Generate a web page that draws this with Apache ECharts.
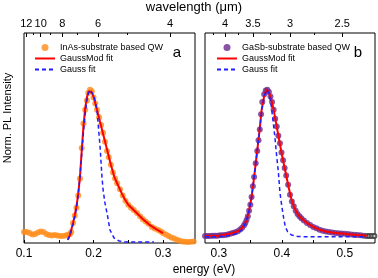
<!DOCTYPE html>
<html>
<head>
<meta charset="utf-8">
<script src="https://cdn.jsdelivr.net/npm/echarts@6/dist/echarts.min.js"></script>
<style>
  html, body { margin: 0; padding: 0; background: #fff; }
  #chart { width: 378px; height: 278px; }
</style>
</head>
<body>
<div id="chart"></div>
<script>
// panel a: InAs-substrate QW
const inasE = [0.100, 0.104, 0.108, 0.112, 0.116, 0.120, 0.124, 0.128, 0.132, 0.136, 0.140, 0.144, 0.148, 0.152, 0.156, 0.160,
  0.163, 0.166, 0.168, 0.1705, 0.173, 0.1755, 0.178, 0.1805, 0.183, 0.1855, 0.188, 0.1905, 0.1925, 0.195, 0.1975,
  0.200, 0.2025, 0.205, 0.208, 0.211, 0.2137, 0.2165, 0.2194, 0.222, 0.225, 0.228, 0.231, 0.234, 0.238, 0.242, 0.246,
  0.250, 0.254, 0.258, 0.2626, 0.267, 0.271, 0.275, 0.279, 0.284, 0.288, 0.293, 0.297, 0.300, 0.304, 0.308, 0.312,
  0.316, 0.320, 0.324, 0.328, 0.332, 0.336, 0.340, 0.344];
const inasI = [0.072, 0.072, 0.065, 0.056, 0.059, 0.069, 0.075, 0.072, 0.059, 0.052, 0.049, 0.052, 0.049, 0.046, 0.046, 0.049,
  0.052, 0.059, 0.072, 0.13, 0.18, 0.23, 0.31, 0.42, 0.62, 0.78, 0.87, 0.93, 0.98, 1.0, 0.99,
  0.95, 0.91, 0.87, 0.82, 0.77, 0.72, 0.66, 0.60, 0.56, 0.51, 0.46, 0.42, 0.39, 0.35, 0.31, 0.275,
  0.25, 0.23, 0.215, 0.196, 0.175, 0.155, 0.14, 0.125, 0.105, 0.095, 0.085, 0.075, 0.066, 0.055, 0.045, 0.036,
  0.03, 0.022, 0.015, 0.01, 0.008, 0.007, 0.008, 0.01];
const modAE = [0.163, 0.166, 0.1705, 0.173, 0.1755, 0.178, 0.1805, 0.183, 0.1855, 0.188, 0.1905, 0.193, 0.1955, 0.198,
  0.201, 0.205, 0.21, 0.215, 0.22, 0.225, 0.23, 0.235, 0.24, 0.245, 0.25, 0.26, 0.27, 0.28, 0.29, 0.30];
const modAI = [0.02, 0.05, 0.13, 0.18, 0.24, 0.32, 0.43, 0.60, 0.76, 0.88, 0.95, 0.99, 1.0, 0.98,
  0.94, 0.87, 0.78, 0.69, 0.60, 0.51, 0.43, 0.38, 0.33, 0.285, 0.25, 0.205, 0.16, 0.12, 0.09, 0.065];
const gaussAE = [0.163, 0.166, 0.1705, 0.173, 0.1755, 0.178, 0.1805, 0.183, 0.1855, 0.188, 0.1905, 0.193, 0.1955, 0.198,
  0.201, 0.205, 0.2075, 0.2094, 0.2122, 0.2137, 0.2165, 0.2194, 0.2237, 0.2295, 0.237, 0.245, 0.26, 0.275, 0.287];
const gaussAI = [0.02, 0.05, 0.12, 0.17, 0.23, 0.32, 0.43, 0.58, 0.72, 0.84, 0.93, 0.98, 1.0, 0.99,
  0.95, 0.87, 0.73, 0.63, 0.43, 0.35, 0.26, 0.196, 0.085, 0.033, 0.013, 0.007, 0.006, 0.006, 0.006];

// panel b: GaSb-substrate QW
const gasbE = [0.278, 0.282, 0.286, 0.290, 0.294, 0.298, 0.302, 0.306, 0.310, 0.314, 0.318, 0.322, 0.326, 0.330, 0.334,
  0.337, 0.340, 0.342, 0.344, 0.346, 0.348, 0.350, 0.352, 0.354, 0.356, 0.3585, 0.361, 0.363, 0.365, 0.367, 0.369,
  0.372, 0.3745, 0.377, 0.3795, 0.382, 0.3845, 0.387, 0.3895, 0.392, 0.3945, 0.397, 0.3995, 0.402, 0.4045, 0.407,
  0.410, 0.413, 0.416, 0.419, 0.422, 0.425, 0.428, 0.431, 0.435, 0.440, 0.445, 0.450, 0.455, 0.460, 0.465, 0.470,
  0.475, 0.480, 0.485, 0.490, 0.495, 0.500, 0.505, 0.510, 0.515, 0.520, 0.525, 0.530];
const gasbI = [0.046, 0.046, 0.046, 0.047, 0.047, 0.048, 0.05, 0.051, 0.053, 0.056, 0.06, 0.065, 0.07, 0.077, 0.088,
  0.1, 0.115, 0.13, 0.15, 0.175, 0.21, 0.25, 0.30, 0.37, 0.43, 0.52, 0.60, 0.67, 0.74, 0.84, 0.92,
  0.97, 0.995, 1.0, 0.985, 0.955, 0.92, 0.87, 0.81, 0.76, 0.70, 0.65, 0.59, 0.54, 0.49, 0.44,
  0.38, 0.315, 0.27, 0.24, 0.21, 0.19, 0.175, 0.162, 0.146, 0.13, 0.117, 0.105, 0.096, 0.087, 0.08, 0.075,
  0.071, 0.068, 0.066, 0.064, 0.062, 0.06, 0.058, 0.056, 0.054, 0.052, 0.05, 0.048];
const openBE = [0.535, 0.539, 0.543, 0.547];
const openBI = [0.046, 0.046, 0.046, 0.046];
const modBE = [0.278, 0.30, 0.32, 0.33, 0.335, 0.34, 0.344, 0.348, 0.352, 0.356, 0.36, 0.364, 0.368, 0.372, 0.3755,
  0.379, 0.383, 0.387, 0.391, 0.395, 0.399, 0.403, 0.407, 0.411, 0.415, 0.42, 0.425, 0.43, 0.44, 0.45, 0.46, 0.47,
  0.48, 0.49, 0.50, 0.51, 0.52, 0.535];
const modBI = [0.045, 0.048, 0.062, 0.076, 0.09, 0.115, 0.15, 0.21, 0.30, 0.43, 0.57, 0.71, 0.87, 0.96, 1.0,
  0.99, 0.94, 0.87, 0.78, 0.69, 0.60, 0.52, 0.44, 0.36, 0.29, 0.23, 0.19, 0.165, 0.13, 0.105, 0.087, 0.075,
  0.068, 0.064, 0.06, 0.056, 0.052, 0.047];
const gaussBE = [0.278, 0.30, 0.32, 0.33, 0.336, 0.34, 0.344, 0.348, 0.352, 0.356, 0.36, 0.364, 0.368, 0.372, 0.3765,
  0.380, 0.383, 0.386, 0.3895, 0.392, 0.3946, 0.397, 0.400, 0.403, 0.4056, 0.409, 0.4153, 0.425, 0.44, 0.50, 0.535];
const gaussBI = [0.04, 0.042, 0.05, 0.065, 0.085, 0.11, 0.15, 0.21, 0.30, 0.43, 0.57, 0.71, 0.86, 0.96, 1.0,
  0.97, 0.90, 0.80, 0.67, 0.56, 0.46, 0.33, 0.24, 0.16, 0.105, 0.075, 0.052, 0.043, 0.04, 0.04, 0.04];

// ticks
const energyTicksA = [0.1, 0.15, 0.2, 0.25, 0.3];
const energyLabelsA = [0.1, 0.2, 0.3];
const energyTicksB = [0.3, 0.35, 0.4, 0.45, 0.5];
const energyLabelsB = [0.3, 0.4, 0.5];
const waveMajorA = [12, 10, 8, 6, 4];
const waveMinorA = [11, 9, 7, 5];
const waveMajorB = [4, 3.5, 3, 2.5];
const waveMinorB = [4.25, 3.75, 3.25, 2.75];

const HC = 1.2398; // eV·µm
const toE = (arr) => arr.map(l => HC / l);
const zip = (xs, ys) => xs.map((x, i) => [x, ys[i]]);

const FONT = "Liberation Sans, Arial, sans-serif";

let dom = document.getElementById("chart");
let myChart = echarts.init(dom, null, { renderer: "canvas" });

function bottomAxis(grid, min, max, ticks, labels) {
  return {
    type: "value", gridIndex: grid, position: "bottom", min: min, max: max,
    axisLine: { show: false },
    axisTick: { inside: true, length: 3, customValues: ticks, lineStyle: { color: "#000" } },
    axisLabel: {
      customValues: labels, margin: 5, color: "#000", fontSize: 12, fontFamily: FONT,
      formatter: v => v.toFixed(1),
    },
    splitLine: { show: false },
  };
}

function topAxis(grid, min, max, waves, len, showLabel) {
  return {
    type: "value", gridIndex: grid, position: "top", min: min, max: max,
    axisLine: { show: false },
    axisTick: { inside: true, length: len, customValues: toE(waves), lineStyle: { color: "#000" } },
    axisLabel: {
      show: showLabel, customValues: toE(waves), margin: 4, color: "#000", fontSize: 11, fontFamily: FONT,
      formatter: v => String(+(HC / v).toFixed(2)),
    },
    splitLine: { show: false },
  };
}

function yAxis(grid) {
  return {
    type: "value", gridIndex: grid, min: 0, max: 1.37,
    axisLine: { show: false }, axisTick: { show: false },
    axisLabel: { show: false }, splitLine: { show: false },
  };
}

// line items: hide the dot ECharts puts in the middle of a line legend icon
const noDot = { opacity: 0 };

function legend(left, first) {
  return {
    left: left, top: 38, orient: "vertical", selectedMode: false,
    itemWidth: 20, itemHeight: 7, itemGap: 2,
    textStyle: { fontSize: 9, color: "#000", fontFamily: FONT },
    data: [
      { name: first, icon: "circle" },
      { name: "GaussMod fit", itemStyle: noDot },
      { name: "Gauss fit", itemStyle: noDot },
    ],
  };
}

let option = {
  animation: false,
  backgroundColor: "#fff",
  grid: [
    { left: 24, top: 33, width: 171, height: 210, show: true, borderColor: "#000", borderWidth: 1 },
    { left: 205, top: 33, width: 170, height: 210, show: true, borderColor: "#000", borderWidth: 1 },
  ],
  xAxis: [
    bottomAxis(0, 0.1, 0.346, energyTicksA, energyLabelsA),
    topAxis(0, 0.1, 0.346, waveMajorA, 4, true),
    topAxis(0, 0.1, 0.346, waveMinorA, 2, false),
    bottomAxis(1, 0.278, 0.548, energyTicksB, energyLabelsB),
    topAxis(1, 0.278, 0.548, waveMajorB, 4, true),
    topAxis(1, 0.278, 0.548, waveMinorB, 2, false),
  ],
  yAxis: [yAxis(0), yAxis(1)],
  legend: [legend(29, "InAs-substrate based QW"), legend(211, "GaSb-substrate based QW")],
  graphic: [
    { type: "text", x: 194, y: 7, style: { text: "wavelength (\u03bcm)", fill: "#000", font: "13px " + FONT, align: "center", verticalAlign: "middle" } },
    { type: "text", x: 204, y: 270, style: { text: "energy (eV)", fill: "#000", font: "12px " + FONT, align: "center", verticalAlign: "middle" } },
    { type: "text", x: 8, y: 118, rotation: Math.PI / 2, style: { text: "Norm. PL Intensity", fill: "#000", font: "11px " + FONT, align: "center", verticalAlign: "middle" } },
    { type: "text", x: 177, y: 53, style: { text: "a", fill: "#000", font: "15px " + FONT, align: "center", verticalAlign: "middle" } },
    { type: "text", x: 358, y: 53, style: { text: "b", fill: "#000", font: "15px " + FONT, align: "center", verticalAlign: "middle" } },
  ],
  series: [
    {
      name: "InAs-substrate based QW", type: "scatter", xAxisIndex: 0, yAxisIndex: 0,
      symbol: "circle", symbolSize: 6, itemStyle: { color: "#ff8c1a" }, data: zip(inasE, inasI),
    },
    {
      name: "GaussMod fit", type: "line", xAxisIndex: 0, yAxisIndex: 0, symbol: "none",
      lineStyle: { color: "#ff0000", width: 2 }, itemStyle: { color: "#ff0000" }, data: zip(modAE, modAI),
    },
    {
      name: "Gauss fit", type: "line", xAxisIndex: 0, yAxisIndex: 0, symbol: "none",
      lineStyle: { color: "#1f1fff", width: 1.5, type: [4, 3] }, itemStyle: { color: "#1f1fff" }, data: zip(gaussAE, gaussAI),
    },
    {
      name: "GaSb-substrate based QW", type: "scatter", xAxisIndex: 3, yAxisIndex: 1,
      symbol: "circle", symbolSize: 6, itemStyle: { color: "#6a2a8e" }, data: zip(gasbE, gasbI),
    },
    {
      name: "open", type: "scatter", xAxisIndex: 3, yAxisIndex: 1,
      symbol: "emptyCircle", symbolSize: 4, itemStyle: { color: "#333", borderWidth: 1 }, data: zip(openBE, openBI),
    },
    {
      name: "GaussMod fit", type: "line", xAxisIndex: 3, yAxisIndex: 1, symbol: "none",
      lineStyle: { color: "#ff0000", width: 2 }, itemStyle: { color: "#ff0000" }, data: zip(modBE, modBI),
    },
    {
      name: "Gauss fit", type: "line", xAxisIndex: 3, yAxisIndex: 1, symbol: "none",
      lineStyle: { color: "#1f1fff", width: 1.5, type: [4, 3] }, itemStyle: { color: "#1f1fff" }, data: zip(gaussBE, gaussBI),
    },
  ],
};

myChart.setOption(option);
window.addEventListener("resize", myChart.resize);
</script>
</body>
</html>
